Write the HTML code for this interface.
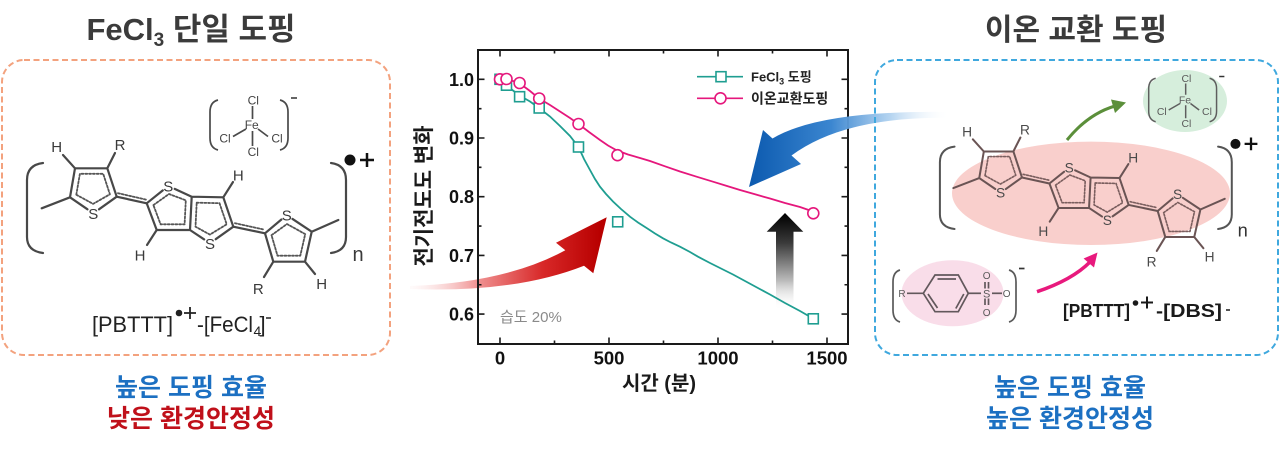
<!DOCTYPE html>
<html>
<head>
<meta charset="utf-8">
<style>
html,body{margin:0;padding:0;background:#fff;}
svg{display:block;}
text{font-family:"Liberation Sans","Noto Sans CJK KR",sans-serif;}
</style>
</head>
<body>
<svg width="1280" height="451" viewBox="0 0 1280 451" xmlns="http://www.w3.org/2000/svg">
<defs>
  <linearGradient id="gRed" gradientUnits="userSpaceOnUse" x1="410" y1="0" x2="600" y2="0">
    <stop offset="0" stop-color="#fbe3e3" stop-opacity="0.15"/>
    <stop offset="0.35" stop-color="#f09494"/>
    <stop offset="0.7" stop-color="#d82828"/>
    <stop offset="1" stop-color="#b80000"/>
  </linearGradient>
  <linearGradient id="gBlue" gradientUnits="userSpaceOnUse" x1="950" y1="0" x2="752" y2="0">
    <stop offset="0" stop-color="#ffffff" stop-opacity="0"/>
    <stop offset="0.3" stop-color="#a8cdee" stop-opacity="0.85"/>
    <stop offset="0.6" stop-color="#3b86d0"/>
    <stop offset="1" stop-color="#0d5bb0"/>
  </linearGradient>
  <linearGradient id="gBlack" gradientUnits="userSpaceOnUse" x1="0" y1="310" x2="0" y2="214">
    <stop offset="0" stop-color="#ffffff" stop-opacity="0"/>
    <stop offset="0.3" stop-color="#bdbdbd"/>
    <stop offset="0.7" stop-color="#3a3a3a"/>
    <stop offset="1" stop-color="#000000"/>
  </linearGradient>
</defs>

<rect width="1280" height="451" fill="#fff"/>

<!-- Titles -->
<text x="191" y="40" font-size="31" font-weight="bold" fill="#3b3b3b" text-anchor="middle">FeCl<tspan font-size="19" dy="6">3</tspan><tspan dy="-6"> 단일 도핑</tspan></text>
<text x="1076" y="40" font-size="30" font-weight="bold" fill="#3b3b3b" text-anchor="middle">이온 교환 도핑</text>

<!-- Dashed boxes -->
<rect x="2" y="60" width="388" height="295" rx="22" ry="22" fill="none" stroke="#f3a27e" stroke-width="2" stroke-dasharray="6 3.5"/>

<!-- Bottom captions -->
<text x="191" y="396" font-size="25" font-weight="bold" fill="#1c70c2" text-anchor="middle">높은 도핑 효율</text>
<text x="191" y="427" font-size="25" font-weight="bold" fill="#c0101a" text-anchor="middle">낮은 환경안정성</text>
<text x="1070" y="396" font-size="25" font-weight="bold" fill="#1c70c2" text-anchor="middle">높은 도핑 효율</text>
<text x="1070" y="427" font-size="25" font-weight="bold" fill="#1c70c2" text-anchor="middle">높은 환경안정성</text>

<!-- ============ LEFT MOLECULE ============ -->
<g>
 <g stroke="#484848" stroke-width="2.2" fill="none" stroke-linecap="round" stroke-linejoin="round">
  <path d="M43,163 Q27,165 27,180 L27,237 Q27,251 43,253"/>
  <path d="M331,163 Q346,165 346,180 L346,237 Q346,251 331,253"/>
  <path d="M41.7,208.3 L70,197.3 L75,168.3 L107.3,168.3 L116.7,196.7 L99,209.3 M70,197.3 L87.5,209.3"/>
  <path d="M75,168.3 L63,155 M107.3,168.3 L115,153"/>
  <path d="M116.7,196.7 L146.7,203.3"/>
  <path d="M146.7,203.3 L162.8,190.4 M174.7,188.9 L191.7,196.7 L223.3,197.3 L233.3,226.7 L215.7,239.2 M204.2,239.4 L190,230 L156.7,230 L146.7,203.3 M191.7,196.7 L190,230"/>
  <path d="M223.3,197.3 L233,182 M156.7,230 L147,245"/>
  <path d="M233.3,226.7 L265,233.3"/>
  <path d="M265,233.3 L281.4,219.5 M292.5,218.9 L311.7,231.7 L305,261.7 L273.3,261.7 L265,233.3 M311.7,231.7 L338.3,220 M305,261.7 L315,274 M273.3,261.7 L264,277"/>
  <g stroke-dasharray="2 1.8" stroke-width="1.8" stroke="#555">
   <polygon points="76.3,194.7 93.1,203.9 109.9,194.3 103.2,173.8 79.9,173.8"/>
   <polygon points="153.4,205.1 169,194 185.8,200.3 184.6,224.3 160.6,224.3"/>
   <polygon points="196.7,202.7 219.5,203.2 226.7,224.3 209.9,234.6 195.5,226.7"/>
   <polygon points="271.5,235.2 287,224 305.2,234.1 300.3,255.7 277.5,255.7"/>
   <path d="M118,193.2 L146,199.6 M235,223.2 L264,229.6"/>
  </g>
 </g>
 <g font-size="15" fill="#3a3a3a" text-anchor="middle">
  <text x="56.7" y="152">H</text>
  <text x="120" y="150">R</text>
  <text x="93.3" y="218.8">S</text>
  <text x="168.3" y="191.5">S</text>
  <text x="238.3" y="180.5">H</text>
  <text x="140" y="260.5">H</text>
  <text x="210" y="248.8">S</text>
  <text x="286.7" y="220.5">S</text>
  <text x="321.7" y="288.8">H</text>
  <text x="258.3" y="293.8">R</text>
  <text x="358" y="261" font-size="20">n</text>
 </g>
 <circle cx="350" cy="160" r="5.5" fill="#111"/>
 <path d="M360,160 L374,160 M367,153 L367,167" stroke="#111" stroke-width="2.5"/>
</g>

<!-- Left FeCl4 -->
<g>
 <g stroke="#4a4a4a" stroke-width="1.7" fill="none">
  <path d="M218,100 Q210,102 210,112 L210,138 Q210,148 218,150"/>
  <path d="M280,100 Q288,102 288,112 L288,138 Q288,148 280,150"/>
  <path d="M252.5,106 L252.5,119 M246,129 L233,136.5 M258,129 L268,136.5 M252.5,131 L252.5,146"/>
  <path d="M291,98 L297,98"/>
 </g>
 <g font-size="12" fill="#444" text-anchor="middle">
  <text x="253.3" y="104.5">Cl</text>
  <text x="251.7" y="129">Fe</text>
  <text x="225" y="142.5">Cl</text>
  <text x="277" y="142.5">Cl</text>
  <text x="253.3" y="156">Cl</text>
 </g>
</g>

<!-- Left label -->
<text x="92" y="332" font-size="22" fill="#222" textLength="81" lengthAdjust="spacingAndGlyphs">[PBTTT]</text>
<circle cx="179" cy="313" r="3.3" fill="#222"/>
<path d="M184,313 L196,313 M190,307 L190,319" stroke="#222" stroke-width="1.8"/>
<text x="197" y="332" font-size="22" fill="#222" textLength="56" lengthAdjust="spacingAndGlyphs">-[FeCl</text>
<text x="253.5" y="336" font-size="14" fill="#222">4</text>
<text x="259.5" y="332" font-size="22" fill="#222">]</text>
<path d="M266,318 L271,318" stroke="#222" stroke-width="1.5"/>

<!-- ============ RIGHT PANEL ============ -->
<ellipse cx="1091" cy="193.3" rx="139" ry="51.7" fill="#f9cfcc"/>
<ellipse cx="1185" cy="101" rx="42" ry="31" fill="#d6eedc"/>
<ellipse cx="952.5" cy="293.3" rx="51" ry="33" fill="#f9dde9"/>

<g transform="translate(915.2,-2.5) scale(0.915)">
 <g stroke="#6a5454" stroke-width="2.2" fill="none" stroke-linecap="round" stroke-linejoin="round">
  <path d="M43,163 Q27,165 27,180 L27,237 Q27,251 43,253" stroke="#555"/>
  <path d="M331,163 Q346,165 346,180 L346,237 Q346,251 331,253" stroke="#555"/>
  <path d="M41.7,208.3 L70,197.3 L75,168.3 L107.3,168.3 L116.7,196.7 L99,209.3 M70,197.3 L87.5,209.3"/>
  <path d="M75,168.3 L63,155 M107.3,168.3 L115,153"/>
  <path d="M116.7,196.7 L146.7,203.3"/>
  <path d="M146.7,203.3 L162.8,190.4 M174.7,188.9 L191.7,196.7 L223.3,197.3 L233.3,226.7 L215.7,239.2 M204.2,239.4 L190,230 L156.7,230 L146.7,203.3 M191.7,196.7 L190,230"/>
  <path d="M223.3,197.3 L233,182 M156.7,230 L147,245"/>
  <path d="M233.3,226.7 L265,233.3"/>
  <path d="M265,233.3 L281.4,219.5 M292.5,218.9 L311.7,231.7 L305,261.7 L273.3,261.7 L265,233.3 M311.7,231.7 L338.3,220 M305,261.7 L315,274 M273.3,261.7 L264,277"/>
  <g stroke-dasharray="2 1.8" stroke-width="1.8" stroke="#7a5e5e">
   <polygon points="76.3,194.7 93.1,203.9 109.9,194.3 103.2,173.8 79.9,173.8"/>
   <polygon points="153.4,205.1 169,194 185.8,200.3 184.6,224.3 160.6,224.3"/>
   <polygon points="196.7,202.7 219.5,203.2 226.7,224.3 209.9,234.6 195.5,226.7"/>
   <polygon points="271.5,235.2 287,224 305.2,234.1 300.3,255.7 277.5,255.7"/>
   <path d="M118,193.2 L146,199.6 M235,223.2 L264,229.6"/>
  </g>
 </g>
 <g font-size="15" fill="#4a4a4a" text-anchor="middle">
  <text x="56.7" y="152">H</text>
  <text x="120" y="150">R</text>
  <text x="93.3" y="218.8">S</text>
  <text x="168.3" y="191.5">S</text>
  <text x="238.3" y="180.5">H</text>
  <text x="140" y="260.5">H</text>
  <text x="210" y="248.8">S</text>
  <text x="286.7" y="220.5">S</text>
  <text x="321.7" y="288.8">H</text>
  <text x="258.3" y="293.8">R</text>
  <text x="358" y="261" font-size="20" fill="#333">n</text>
 </g>
 <circle cx="350" cy="160" r="5.5" fill="#111"/>
 <path d="M360,160 L374,160 M367,153 L367,167" stroke="#111" stroke-width="2.5"/>
</g>

<!-- Right FeCl4 -->
<g transform="translate(966,-8.75) scale(0.87)">
 <g stroke="#5e5e5e" stroke-width="1.7" fill="none">
  <path d="M218,100 Q210,102 210,112 L210,138 Q210,148 218,150"/>
  <path d="M280,100 Q288,102 288,112 L288,138 Q288,148 280,150"/>
  <path d="M252.5,106 L252.5,119 M246,129 L233,136.5 M258,129 L268,136.5 M252.5,131 L252.5,146"/>
  <path d="M291,98 L297,98" stroke="#333"/>
 </g>
 <g font-size="12" fill="#5a5a5a" text-anchor="middle">
  <text x="253.3" y="104.5">Cl</text>
  <text x="251.7" y="129">Fe</text>
  <text x="225" y="142.5">Cl</text>
  <text x="277" y="142.5">Cl</text>
  <text x="253.3" y="156">Cl</text>
 </g>
</g>

<!-- DBS -->
<g stroke="#62585c" stroke-width="1.7" fill="none">
 <path d="M900,270 Q893,272 893,282 L893,310 Q893,320 900,322" stroke="#5a5a5a"/>
 <path d="M1009,270 Q1016,272 1016,282 L1016,310 Q1016,320 1009,322" stroke="#5a5a5a"/>
 <path d="M907,293.3 L923.3,293.3"/>
 <polygon points="923.3,293.3 935,275 958.3,275 968.3,293.3 958.3,311.7 935,311.7"/>
 <path d="M937.5,279 L956,279 M963.8,294 L955.8,308.5 M937.5,308 L928,294"/>
 <path d="M968.3,293.3 L981,293.3"/>
 <path d="M985,282 L985,288.5 M988.5,282 L988.5,288.5 M985,298.5 L985,305 M988.5,298.5 L988.5,305"/>
 <path d="M992,293.3 L1002,293.3"/>
 <path d="M1019,268.5 L1024.5,268.5" stroke="#333"/>
</g>
<g font-size="10" fill="#5a5a5a" text-anchor="middle">
 <text x="902" y="297">R</text>
 <text x="986.7" y="297.5" font-size="11">S</text>
 <text x="986.7" y="279">O</text>
 <text x="986.7" y="316">O</text>
 <text x="1006.7" y="297">O</text>
</g>

<!-- Right label -->
<text x="1063" y="317" font-size="18" font-weight="bold" fill="#1a1a1a" textLength="67" lengthAdjust="spacingAndGlyphs">[PBTTT]</text>
<circle cx="1135.5" cy="303" r="2.8" fill="#1a1a1a"/>
<path d="M1141,302.5 L1153,302.5 M1147,296.5 L1147,308.5" stroke="#1a1a1a" stroke-width="2"/>
<text x="1156" y="317" font-size="18" font-weight="bold" fill="#1a1a1a" textLength="66" lengthAdjust="spacingAndGlyphs">-[DBS]</text>
<path d="M1226,310 L1230,310" stroke="#1a1a1a" stroke-width="1.5"/>

<!-- green arrow -->
<path d="M1067,140 Q1088,114 1115,106" stroke="#5b8f3a" stroke-width="3" fill="none"/>
<polygon points="1126,102.5 1111,99.5 1115,113" fill="#5b8f3a"/>
<!-- magenta arrow -->
<path d="M1037,291.7 Q1072,280 1090,262" stroke="#e8197d" stroke-width="3.5" fill="none"/>
<polygon points="1097.5,252.5 1083.6,258.5 1094,267.5" fill="#e8197d"/>

<!-- ============ CHART ============ -->
<path d="M410,286 Q505,283 565.3,250.3 L556,242.7 L606.7,217.3 L593.3,273.3 L584,265.7 Q515,293 410,289 Z" fill="url(#gRed)"/>

<rect x="478" y="50" width="370" height="294" fill="none" stroke="#1a1a1a" stroke-width="2"/>
<g stroke="#1a1a1a" stroke-width="1.6">
 <path d="M500,344 L500,337.5 M609,344 L609,337.5 M718,344 L718,337.5 M827,344 L827,337.5"/>
 <path d="M554.5,344 L554.5,340.5 M663.5,344 L663.5,340.5 M772.5,344 L772.5,340.5"/>
 <path d="M500,50 L500,56.5 M609,50 L609,56.5 M718,50 L718,56.5 M827,50 L827,56.5"/>
 <path d="M554.5,50 L554.5,53.5 M663.5,50 L663.5,53.5 M772.5,50 L772.5,53.5"/>
 <path d="M478,79.3 L484.5,79.3 M478,138 L484.5,138 M478,196.7 L484.5,196.7 M478,255.4 L484.5,255.4 M478,314.1 L484.5,314.1"/>
 <path d="M478,108.65 L481.5,108.65 M478,167.35 L481.5,167.35 M478,226.05 L481.5,226.05 M478,284.75 L481.5,284.75"/>
 <path d="M848,79.3 L841.5,79.3 M848,138 L841.5,138 M848,196.7 L841.5,196.7 M848,255.4 L841.5,255.4 M848,314.1 L841.5,314.1"/>
 <path d="M848,108.65 L844.5,108.65 M848,167.35 L844.5,167.35 M848,226.05 L844.5,226.05 M848,284.75 L844.5,284.75"/>
</g>
<g font-size="18" font-weight="bold" fill="#111" text-anchor="end">
 <text x="474" y="85.8">1.0</text>
 <text x="474" y="144.5">0.9</text>
 <text x="474" y="203.2">0.8</text>
 <text x="474" y="261.9">0.7</text>
 <text x="474" y="320.6">0.6</text>
</g>
<g font-size="18.5" font-weight="bold" fill="#111" text-anchor="middle">
 <text x="500" y="364.5">0</text>
 <text x="609" y="364.5">500</text>
 <text x="718" y="364.5">1000</text>
 <text x="827" y="364.5">1500</text>
</g>
<text x="659" y="390" font-size="20" font-weight="bold" fill="#1a1a1a" text-anchor="middle">시간 (분)</text>
<text transform="translate(431,196) rotate(-90)" x="0" y="0" font-size="21" font-weight="bold" fill="#1a1a1a" text-anchor="middle">전기전도도 변화</text>

<text x="500" y="322" font-size="15" fill="#8a8a8a">습도 20%</text>

<!-- black arrow -->
<polygon points="785,213 766.7,231.7 776,231.7 776,310 793.5,310 793.5,231.7 803.3,231.7" fill="url(#gBlack)"/>

<!-- curves -->
<polyline fill="none" stroke="#1f9e91" stroke-width="1.8" points="500,79.3 506.5,85 513,90.5 520,95.8 530,101.5 539,108 550,116.5 560,126 570,136 578.5,147 584,159 590,170 595,179 600,186.7 606,194 613,201.5 621,209 630,216.7 638,222.5 647,228.3 655,233.5 663,238.3 671,242.5 680,246.7 690,252 698,256.7 710,263 722,269 733,274.5 745,281 757,287.5 770,294.5 785,303 800,311 813,318.5"/>
<polyline fill="none" stroke="#e5177c" stroke-width="1.8" points="500,79.3 506.5,79.6 513,81 520,83.6 530,91 539,98.5 550,105 560,111.5 570,118 578.5,124 589,132 600,140 608,145.5 617,150.5 628,154.5 640,158 650,161 665,166.3 680,171.5 697,176.8 713,181.7 727,186 740,190 755,194.3 770,198.5 785,203 800,207 813,211.5"/>
<g fill="#fff" stroke="#1f9e91" stroke-width="1.6">
 <rect x="495" y="74.3" width="10" height="10"/>
 <rect x="501.5" y="80.2" width="10" height="10"/>
 <rect x="514.6" y="91.7" width="10" height="10"/>
 <rect x="534.2" y="103" width="10" height="10"/>
 <rect x="573.5" y="142" width="10" height="10"/>
 <rect x="612.7" y="216.8" width="10" height="10"/>
 <rect x="808.3" y="313.8" width="10" height="10"/>
</g>
<g fill="#fff" stroke="#e5177c" stroke-width="1.6">
 <circle cx="500" cy="79.3" r="5.5"/>
 <circle cx="506.5" cy="79" r="5.5"/>
 <circle cx="519.6" cy="83" r="5.5"/>
 <circle cx="539.2" cy="98.5" r="5.5"/>
 <circle cx="578.5" cy="124" r="5.5"/>
 <circle cx="617.5" cy="155.2" r="5.5"/>
 <circle cx="813.3" cy="213.3" r="5.5"/>
</g>

<!-- legend -->
<path d="M697,76.7 L743,76.7" stroke="#1f9e91" stroke-width="1.6"/>
<rect x="716" y="71.7" width="10" height="10" fill="#fff" stroke="#1f9e91" stroke-width="1.6"/>
<text x="751" y="81.5" font-size="13" font-weight="bold" fill="#222">FeCl<tspan font-size="9" dy="3">3</tspan><tspan dy="-3"> 도핑</tspan></text>
<path d="M697,98.3 L743,98.3" stroke="#e5177c" stroke-width="1.6"/>
<circle cx="720.5" cy="98.3" r="5.5" fill="#fff" stroke="#e5177c" stroke-width="1.6"/>
<text x="751" y="103.5" font-size="14" font-weight="bold" fill="#222">이온교환도핑</text>

<!-- blue arrow -->
<path d="M950,112 Q820,110 772.5,138.5 L763,130 L749,187 L801,164 L791.5,155.5 Q845,116 950,118 Z" fill="url(#gBlue)"/>

<rect x="875" y="60" width="403" height="295" rx="22" ry="22" fill="none" stroke="#3fa8de" stroke-width="2" stroke-dasharray="6 3.5"/>
</svg>
</body>
</html>
